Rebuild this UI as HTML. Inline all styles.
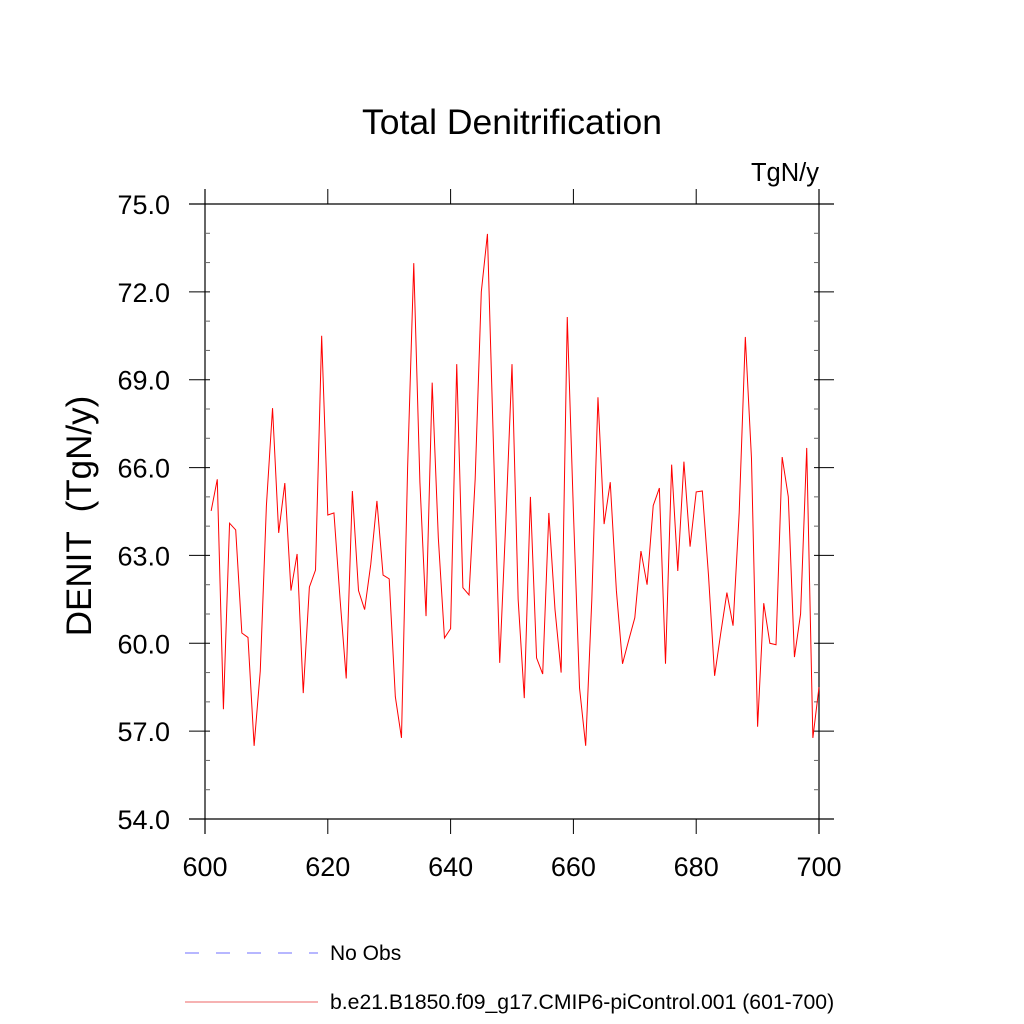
<!DOCTYPE html>
<html><head><meta charset="utf-8"><style>
html,body{margin:0;padding:0;background:#fff;}
svg{display:block;font-family:"Liberation Sans",sans-serif;}
</style></head><body>
<svg id="chart" width="1024" height="1024" viewBox="0 0 1024 1024">
<text x="512" y="134" font-size="35.5" text-anchor="middle">Total Denitrification</text>
<text x="819" y="181" font-size="25.5" text-anchor="end">TgN/y</text>
<text transform="translate(91,516) rotate(-90)" font-size="35" text-anchor="middle" xml:space="preserve">DENIT  (TgN/y)</text>
<g id="axes"></g>
<g id="series"></g>
<g>
<line x1="185" y1="953" x2="318" y2="953" stroke="#6f6fff" stroke-width="1" stroke-dasharray="14,17"/>
<text x="330" y="960" font-size="21">No Obs</text>
<line x1="185" y1="1002" x2="318" y2="1002" stroke="#e66" stroke-width="1"/>
<text x="330" y="1009" font-size="21.2">b.e21.B1850.f09_g17.CMIP6-piControl.001 (601-700)</text>
</g>
</svg>
<script>
const years = [];
for (let y = 601; y <= 700; y++) years.push(y);
const denit = [64.52,65.6,57.75,64.1,63.87,60.35,60.2,56.5,59.05,64.7,
68.03,63.77,65.47,61.8,63.05,58.3,61.92,62.5,70.5,64.38,
64.45,61.5,58.8,65.2,61.8,61.15,62.7,64.86,62.33,62.2,
58.17,56.77,66.0,72.98,65.5,60.93,68.9,63.6,60.18,60.5,
69.53,61.9,61.65,65.6,72.0,73.98,66.6,59.33,64.2,69.53,
61.5,58.13,65.0,59.5,58.95,64.45,61.16,59.0,71.14,64.5,
58.47,56.5,61.5,68.4,64.07,65.5,61.8,59.3,60.1,60.87,
63.15,62.0,64.7,65.3,59.3,66.1,62.47,66.2,63.3,65.17,
65.2,62.33,58.89,60.35,61.73,60.6,64.45,70.46,66.33,57.15,
61.37,60.0,59.95,66.36,65.0,59.53,61.0,66.67,56.77,58.5];
const xTicks = [600,620,640,660,680,700];
const yTicks = [54,57,60,63,66,69,72,75];
const yMinor = [55,56,58,59,61,62,64,65,67,68,70,71,73,74];

const X0=205,X1=819,Y0=819,Y1=204;
const xs = v => X0 + (v-600)/(700-600)*(X1-X0);
const ys = v => Y0 - (v-54)/(75-54)*(Y0-Y1);
const NS="http://www.w3.org/2000/svg";
const ax=document.getElementById('axes');
function mk(tag,attrs,parent){const e=document.createElementNS(NS,tag);for(const k in attrs)e.setAttribute(k,attrs[k]);parent.appendChild(e);return e;}

let l;
l=mk('line',{x1:189,y1:Y0,x2:834,y2:Y0,stroke:'#000','stroke-width':1.2},ax);


l=mk('line',{x1:189,y1:Y1,x2:834,y2:Y1,stroke:'#000','stroke-width':1.2},ax);


l=mk('line',{x1:X0,y1:189,x2:X0,y2:834,stroke:'#000','stroke-width':1.2},ax);


l=mk('line',{x1:X1,y1:189,x2:X1,y2:834,stroke:'#000','stroke-width':1.2},ax);



xTicks.forEach(v=>{
  const x=xs(v);
  let t=mk('line',{x1:x,y1:Y0,x2:x,y2:834,stroke:'#000','stroke-width':1},ax);
  
  
  t=mk('line',{x1:x,y1:Y1,x2:x,y2:189,stroke:'#000','stroke-width':1},ax);
  
  
  const tx=mk('text',{x:x,y:876,'font-size':27,'text-anchor':'middle'},ax);
  tx.textContent=v;
  
  
});
yTicks.forEach(v=>{
  const y=ys(v);
  let t=mk('line',{x1:189,y1:y,x2:X0+5,y2:y,stroke:'#000','stroke-width':1},ax);
  
  
  t=mk('line',{x1:X1-5,y1:y,x2:834,y2:y,stroke:'#000','stroke-width':1},ax);
  
  
  const tx=mk('text',{x:170,y:y+10,'font-size':27,'text-anchor':'end'},ax);
  tx.textContent=v.toFixed(1);
  
  
});
yMinor.forEach(v=>{
  const y=ys(v);
  let t=mk('line',{x1:X0,y1:y,x2:X0+5,y2:y,stroke:'#666','stroke-width':1},ax);
  
  
  t=mk('line',{x1:X1-5,y1:y,x2:X1,y2:y,stroke:'#666','stroke-width':1},ax);
  
  
});

const pts=years.map((yr,i)=>xs(yr).toFixed(2)+','+ys(denit[i]).toFixed(2)).join(' ');
const pl=mk('polyline',{points:pts,fill:'none',stroke:'#ff0000','stroke-width':1},document.getElementById('series'));


</script>
</body></html>
